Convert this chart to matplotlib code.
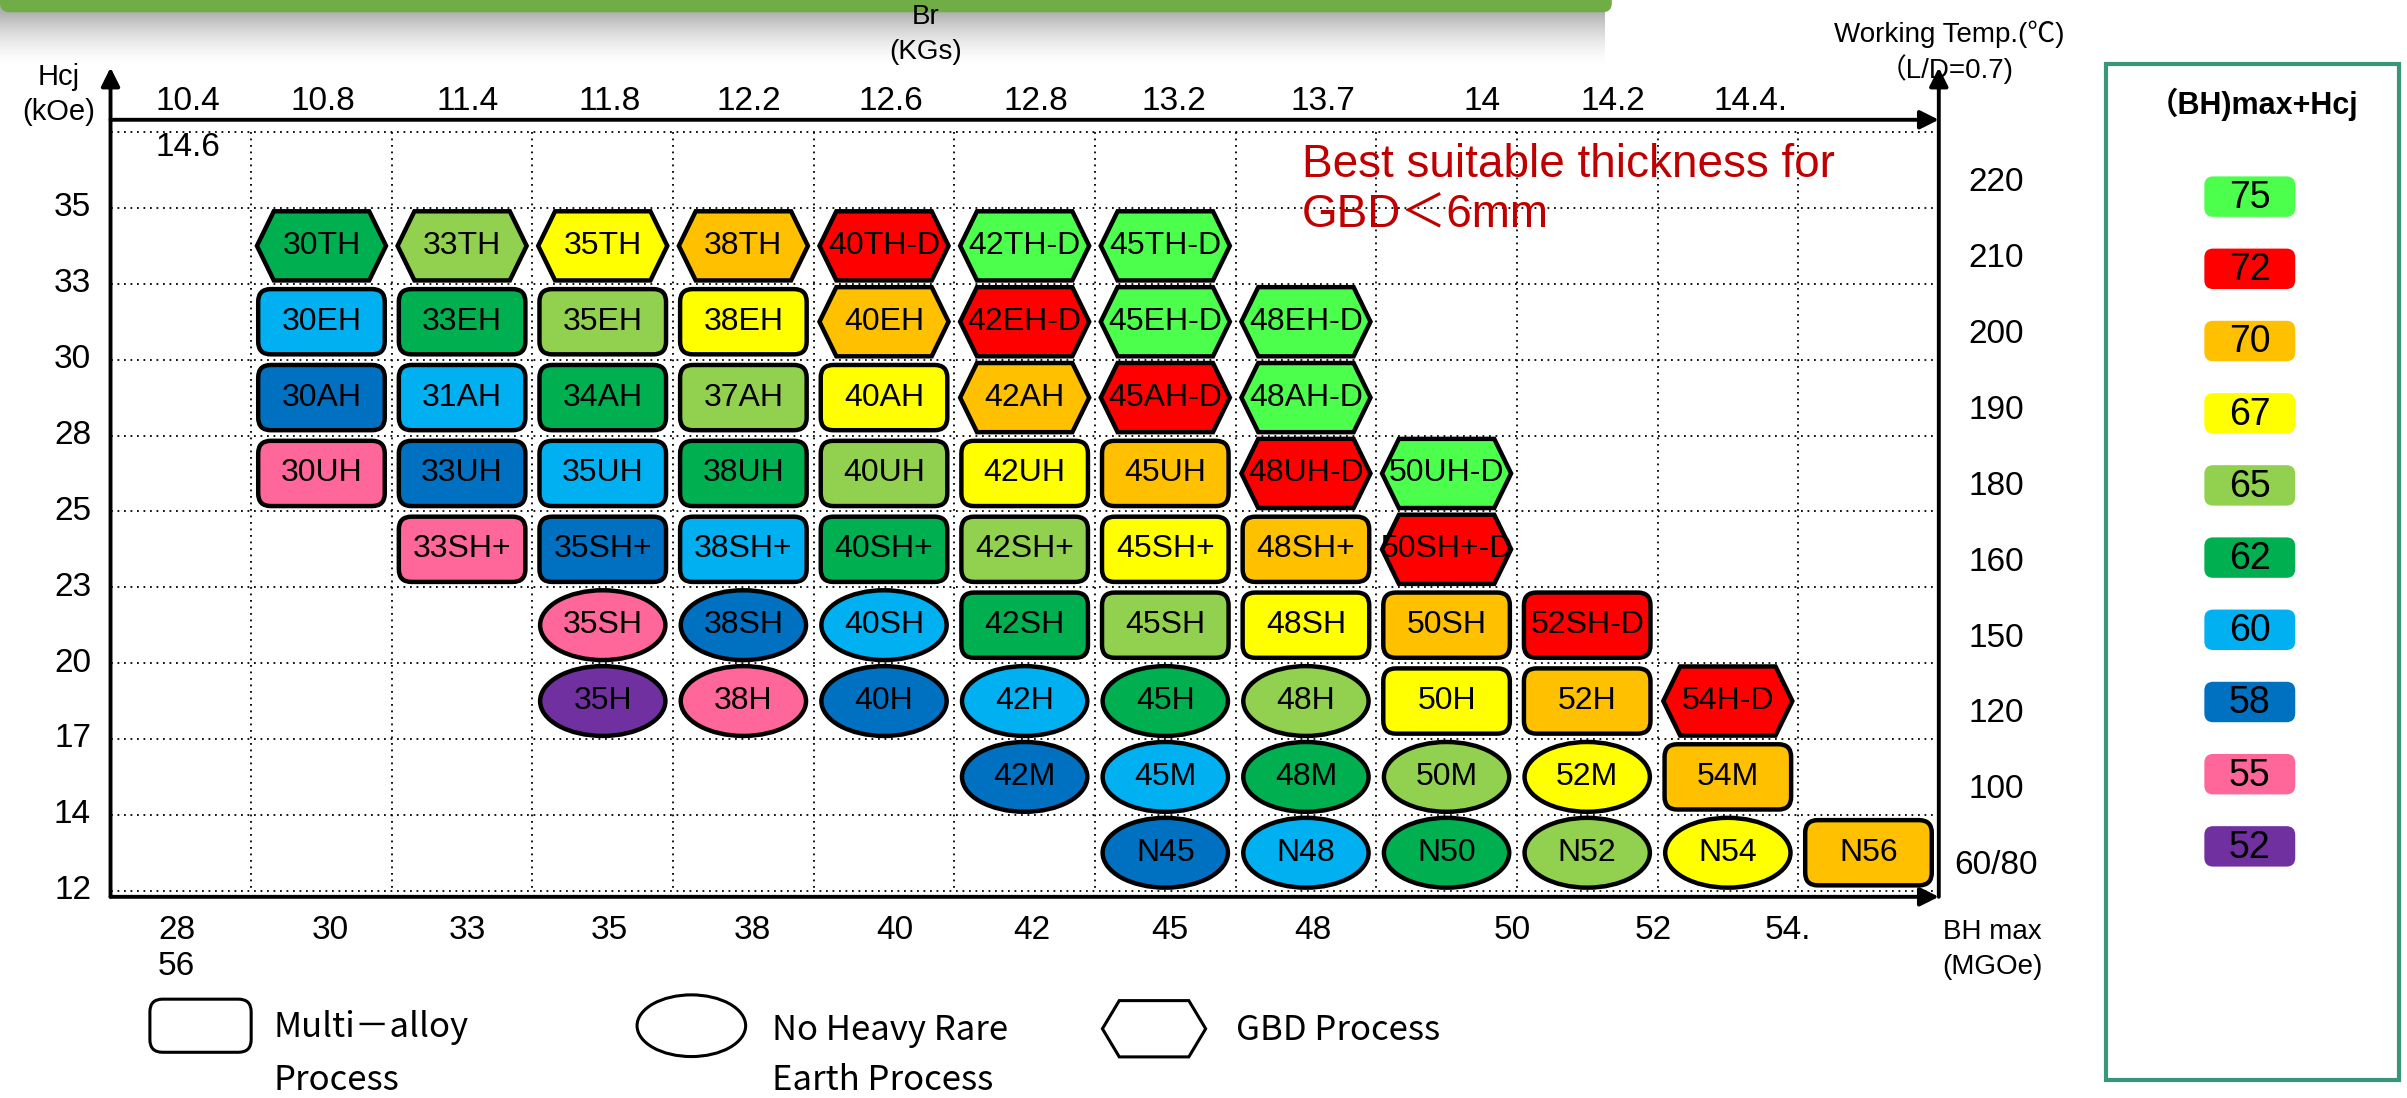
import matplotlib
matplotlib.use('Agg')
import matplotlib.pyplot as plt
from matplotlib.patches import FancyBboxPatch, Ellipse, Polygon, Rectangle
import numpy as np

# ---- data ----
legend_scores = [75, 72, 70, 67, 65, 62, 60, 58, 55, 52]
legend_colors = ['#4CFF4C', '#FF0000', '#FFC000', '#FFFF00', '#92D050',
                 '#00B050', '#00B0F0', '#0070C0', '#FF6699', '#7030A0']

hcj_labels = ['35', '33', '30', '28', '25', '23', '20', '17', '14', '12']
temp_labels = ['220', '210', '200', '190', '180', '160', '150', '120', '100', '60/80']
br_labels = ['10.4', '10.8', '11.4', '11.8', '12.2', '12.6', '12.8', '13.2', '13.7', '14', '14.2', '14.4.']
br_pos = [0.55, 1.51, 2.54, 3.55, 4.54, 5.55, 6.58, 7.56, 8.62, 9.75, 10.68, 11.66]
bh_labels = ['28', '30', '33', '35', '38', '40', '42', '45', '48', '50', '52', '54.']
bh_pos = [0.47, 1.56, 2.54, 3.55, 4.56, 5.58, 6.55, 7.53, 8.55, 9.97, 10.97, 11.93]

# grade rows: labels, shapes (R multi-alloy, E no heavy RE, H GBD) and (BH)max+Hcj score
TH_labels = ['30TH', '33TH', '35TH', '38TH', '40TH-D', '42TH-D', '45TH-D']
TH_scores = [62, 65, 67, 70, 72, 75, 75]
EH_labels = ['30EH', '33EH', '35EH', '38EH', '40EH', '42EH-D', '45EH-D', '48EH-D']
EH_scores = [60, 62, 65, 67, 70, 72, 75, 75]
AH_labels = ['30AH', '31AH', '34AH', '37AH', '40AH', '42AH', '45AH-D', '48AH-D']
AH_scores = [58, 60, 62, 65, 67, 70, 72, 75]
UH_labels = ['30UH', '33UH', '35UH', '38UH', '40UH', '42UH', '45UH', '48UH-D', '50UH-D']
UH_scores = [55, 58, 60, 62, 65, 67, 70, 72, 75]
SHp_labels = ['33SH+', '35SH+', '38SH+', '40SH+', '42SH+', '45SH+', '48SH+', '50SH+-D']
SHp_scores = [55, 58, 60, 62, 65, 67, 70, 72]
SH_labels = ['35SH', '38SH', '40SH', '42SH', '45SH', '48SH', '50SH', '52SH-D']
SH_scores = [55, 58, 60, 62, 65, 67, 70, 72]
H_labels = ['35H', '38H', '40H', '42H', '45H', '48H', '50H', '52H', '54H-D']
H_scores = [52, 55, 58, 60, 62, 65, 67, 70, 72]
M_labels = ['42M', '45M', '48M', '50M', '52M', '54M']
M_scores = [58, 60, 62, 65, 67, 70]
N_labels = ['N45', 'N48', 'N50', 'N52', 'N54', 'N56']
N_scores = [58, 60, 62, 65, 67, 70]

grade_rows = [
    (1, 1, TH_labels, 'HHHHHHH', TH_scores),
    (2, 1, EH_labels, 'RRRRHHHH', EH_scores),
    (3, 1, AH_labels, 'RRRRRHHH', AH_scores),
    (4, 1, UH_labels, 'RRRRRRRHH', UH_scores),
    (5, 2, SHp_labels, 'RRRRRRRH', SHp_scores),
    (6, 3, SH_labels, 'EEERRRRR', SH_scores),
    (7, 3, H_labels, 'EEEEEERRH', H_scores),
    (8, 6, M_labels, 'EEEEER', M_scores),
    (9, 7, N_labels, 'EEEEER', N_scores),
]
score_color = dict(zip(legend_scores, legend_colors))

ARIAL = ['Liberation Sans', 'Noto Sans CJK JP', 'DejaVu Sans']
GOTHIC = ['Noto Sans CJK JP', 'DejaVu Sans']

# ---- figure ----
SW, SH = 1568, 715
fig = plt.figure(figsize=(24.07, 10.98), dpi=100)


def fx(x):
    return x / SW


def fy(y):
    return 1 - y / SH


# top banner fragment with shadow
bax = fig.add_axes([0, fy(50), fx(1060), 50 / SH])
bax.set_xlim(0, 1060)
bax.set_ylim(50, 0)
bax.axis('off')
grad = np.zeros((50, 1, 4))
a = np.clip((42 - np.arange(50)) / 34, 0, 1) ** 1.6 * 0.55
grad[:, 0, :3] = 0.45
grad[:, 0, 3] = a
bax.imshow(grad, extent=(0, 1045, 50, 0), aspect='auto')
bax.add_patch(FancyBboxPatch((0, -10), 1050, 18, boxstyle='round,pad=0,rounding_size=6',
                             fc='#70AD47', ec='none'))

# main chart
ax = fig.add_axes([fx(72), fy(584), fx(1263) - fx(72), fy(78) - fy(584)])
ax.set_xlim(0, 13)
ax.set_ylim(10.081, -0.162)
ax.axis('off')
asp = (1191 / 13) / (506 / 10.243)

ax.hlines(range(0, 11), 0, 13, colors='black', linestyles=(0, (1, 2.6)), lw=1.3)
ax.vlines(range(0, 14), 0, 10, colors='black', linestyles=(0, (1, 2.6)), lw=1.3)

arrow = dict(arrowstyle='-|>', lw=2.8, color='black', mutation_scale=28, shrinkA=0, shrinkB=0)
ax.annotate('', xy=(0, -0.85), xytext=(0, 10.081), arrowprops=arrow, annotation_clip=False)
ax.annotate('', xy=(13, -0.85), xytext=(13, 10.081), arrowprops=arrow, annotation_clip=False)
ax.annotate('', xy=(13, -0.162), xytext=(0, -0.162), arrowprops=arrow, annotation_clip=False)
ax.annotate('', xy=(13, 10.081), xytext=(0, 10.081), arrowprops=arrow, annotation_clip=False)


def draw_shape(cx, cy, kind, color, w=0.9, h=0.86, lw=3.2, clip=True):
    if kind == 'R':
        p = FancyBboxPatch((cx - w / 2, cy - h / 2), w, h,
                           boxstyle='round,pad=0,rounding_size=0.09', mutation_aspect=asp,
                           fc=color, ec='black', lw=lw, clip_on=clip)
    elif kind == 'E':
        p = Ellipse((cx, cy), w * 0.99, h * 1.07, fc=color, ec='black', lw=lw, clip_on=clip)
    else:
        w2 = w * 1.02
        d = 0.12
        verts = [(cx - w2 / 2, cy), (cx - w2 / 2 + d, cy - h * 0.53), (cx + w2 / 2 - d, cy - h * 0.53),
                 (cx + w2 / 2, cy), (cx + w2 / 2 - d, cy + h * 0.53), (cx - w2 / 2 + d, cy + h * 0.53)]
        p = Polygon(verts, closed=True, fc=color, ec='black', lw=lw, joinstyle='miter', clip_on=clip)
    ax.add_patch(p)


for row, first, labels, shapes, scores in grade_rows:
    for i, (lab, kind, sc) in enumerate(zip(labels, shapes, scores)):
        cx = first + i + 0.5
        cy = row + 0.5
        draw_shape(cx, cy, kind, score_color[sc], clip=False)
        ax.text(cx, cy, lab, ha='center', va='center', fontsize=23, family=ARIAL)

# axis labels
for i, lab in enumerate(hcj_labels):
    ax.text(-0.27, i + 1, lab, ha='center', va='center', fontsize=24, family=ARIAL)
for i, lab in enumerate(temp_labels):
    ax.text(13.41, i + 0.67, lab, ha='center', va='center', fontsize=24, family=ARIAL)
for p, lab in zip(br_pos, br_labels):
    ax.text(p, -0.40, lab, ha='center', va='center', fontsize=24, family=ARIAL)
for p, lab in zip(bh_pos, bh_labels):
    ax.text(p, 10.53, lab, ha='center', va='center', fontsize=24, family=ARIAL)
ax.text(0.55, 0.2, '14.6', ha='center', va='center', fontsize=24, family=ARIAL)
ax.text(0.47, 11.0, '56', ha='center', va='center', fontsize=24, family=ARIAL)

fig.text(fx(38), fy(50), 'Hcj', ha='center', va='center', fontsize=21, family=ARIAL)
fig.text(fx(38), fy(73), '(kOe)', ha='center', va='center', fontsize=21, family=ARIAL)
fig.text(fx(603), fy(11), 'Br', ha='center', va='center', fontsize=20, family=ARIAL)
fig.text(fx(603), fy(34), '(KGs)', ha='center', va='center', fontsize=20, family=ARIAL)
fig.text(fx(1270), fy(22), 'Working Temp.(℃)', ha='center', va='center', fontsize=20, family=ARIAL)
fig.text(fx(1268), fy(45), '（L/D=0.7)', ha='center', va='center', fontsize=20, family=ARIAL)
fig.text(fx(1298), fy(607), 'BH max', ha='center', va='center', fontsize=20, family=ARIAL)
fig.text(fx(1298), fy(630), '(MGOe)', ha='center', va='center', fontsize=20, family=ARIAL)

ax.text(8.47, 0.43, 'Best suitable thickness for', ha='left', va='center', fontsize=33,
        color='#C00000', family=ARIAL)
ax.text(8.47, 1.1, 'GBD＜6mm', ha='left', va='center', fontsize=33, color='#C00000', family=ARIAL)

# shape legend below the chart
draw_shape(0.64, 11.78, 'R', 'white', w=0.72, h=0.7, lw=2.2, clip=False)
ax.text(1.16, 11.8, 'Multi－alloy', ha='left', va='center', fontsize=25, family=GOTHIC)
ax.text(1.16, 12.5, 'Process', ha='left', va='center', fontsize=25, family=GOTHIC)
draw_shape(4.13, 11.78, 'E', 'white', w=0.78, h=0.76, lw=2.2, clip=False)
ax.text(4.7, 11.84, 'No Heavy Rare', ha='left', va='center', fontsize=25, family=GOTHIC)
ax.text(4.7, 12.5, 'Earth Process', ha='left', va='center', fontsize=25, family=GOTHIC)
draw_shape(7.42, 11.82, 'H', 'white', w=0.72, h=0.7, lw=2.2, clip=False)
ax.text(8.0, 11.84, 'GBD Process', ha='left', va='center', fontsize=25, family=GOTHIC)

# color legend
lax = fig.add_axes([fx(1372), fy(703), fx(1563) - fx(1372), fy(42) - fy(703)])
lax.set_xlim(0, 1)
lax.set_ylim(12.23, -1.83)
lax.axis('off')
lax.add_patch(Rectangle((0, 0), 1, 1, transform=lax.transAxes, fill=False, ec='#3A967A', lw=3,
                        clip_on=False))
lax.text(0.5, -1.28, '（BH)max+Hcj', ha='center', va='center', fontsize=22, fontweight='bold',
         family=ARIAL)
lasp = 191 / (661 / 14.06)
for i, (sc, col) in enumerate(zip(legend_scores, legend_colors)):
    lax.add_patch(FancyBboxPatch((0.335, i - 0.28), 0.31, 0.56,
                                 boxstyle='round,pad=0,rounding_size=0.03', mutation_aspect=lasp,
                                 fc=col, ec='none'))
    lax.text(0.49, i + 0.02, str(sc), ha='center', va='center', fontsize=27, family=ARIAL)

fig.savefig('out.png', dpi=100)
